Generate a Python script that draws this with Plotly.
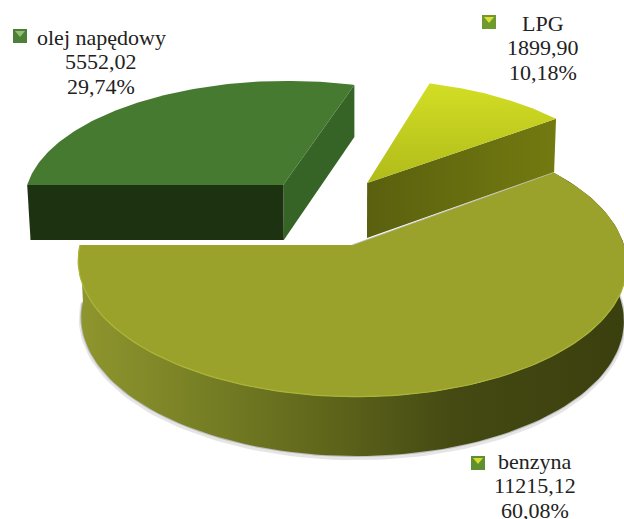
import math
import plotly.graph_objects as go

categories = ["olej napędowy", "LPG", "benzyna"]
values = [5552.02, 1899.90, 11215.12]
value_labels = ["5552,02", "1899,90", "11215,12"]

# view model of the tilted pie
START_DEG = 270.0
CX, CY, FX, FY, PERSP, DROP, PERSP_Z, PERSP_ZX, SKEW = 352, 245, 272, 132, 0.13, 58.3, 0.032, 0.011, 4
OFFSETS = [(-0.262, -0.483), (0.0666, -0.50), (0.0, 0.0)]

total = sum(values)


def project(x, y, z=0.0):
    w = 1 - PERSP * y + PERSP_Z * z
    wx = 1 - PERSP * y + PERSP_ZX * z
    return CX + (FX * x + SKEW * y) / wx, CY + (FY * y + DROP * z) / w


def rim(off, a, z=0.0):
    r = math.radians(a)
    return project(off[0] + math.sin(r), off[1] - math.cos(r), z)


def arc(off, a0, a1, z=0.0, n=120):
    return [rim(off, a0 + (a1 - a0) * i / n, z) for i in range(n + 1)]


def poly(pts, color=None, gradient=None):
    xs, ys = zip(*pts)
    kw = dict(fillgradient=gradient) if gradient else dict(fillcolor=color)
    fig.add_trace(go.Scatter(x=list(xs) + [xs[0]], y=list(ys) + [ys[0]], mode="lines",
                             fill="toself", line=dict(width=0), hoverinfo="skip", **kw))


def stroke(pts, color, width):
    xs, ys = zip(*pts)
    fig.add_trace(go.Scatter(x=list(xs), y=list(ys), mode="lines",
                             line=dict(color=color, width=width), hoverinfo="skip"))


fig = go.Figure()

angles = []
a = START_DEG
for v in values:
    angles.append((a, a + 360 * v / total))
    a += 360 * v / total

# benzyna
off = OFFSETS[2]
a0, a1 = angles[2]
a0 -= 360
a1 -= 360
tip = project(*off)
stroke(arc(off, 80, 270, 1.03), "rgba(0,0,0,0.10)", 5)
stroke(arc(off, 80, 270, 1.0), "rgba(0,0,0,0.18)", 2)
poly(arc(off, a0, a1) + arc(off, a1, a0, 1.0), gradient=dict(
    type="horizontal",
    colorscale=[[0, "#8f962e"], [0.2, "#7a8226"], [0.45, "#5f661b"], [0.68, "#454a13"], [1, "#3a3f0e"]]))
poly([tip] + arc(off, a0, a1), color="#9aa22c")
stroke(arc(off, 100, 270), "#aab535", 1.2)
stroke([rim(off, a0), tip], "rgba(190,190,190,0.8)", 1)

# LPG
off = OFFSETS[1]
a0, a1 = angles[1]
a0 -= 360
a1 -= 360
tip = project(*off)
tip_b = project(*off, 1.0)
poly([tip, rim(off, a1), rim(off, a1, 1.0), tip_b], gradient=dict(
    type="horizontal", colorscale=[[0, "#5a600e"], [1, "#737a10"]]))
poly([tip] + arc(off, a0, a1), gradient=dict(
    type="vertical", colorscale=[[0, "#b0bb1a"], [1, "#d2de24"]]))

# olej napędowy
off = OFFSETS[0]
a0, a1 = angles[0]
tip = project(*off)
tip_b = project(*off, 1.0)
poly([tip, rim(off, a1), rim(off, a1, 1.0), tip_b], color="#366326")
poly([tip, rim(off, a0), rim(off, a0, 1.0), tip_b], color="#1c3210")
poly([tip] + arc(off, a0, a1), color="#457a30")

# labels
LABEL_POS = [(101, 37), (543, 23), (535, 461)]
LINE = 24.5
ann = []
for name, val, v, (lx, ly) in zip(categories, value_labels, values, LABEL_POS):
    pct = f"{100 * v / total:.2f}%".replace(".", ",")
    for i, t in enumerate((name, val, pct)):
        ann.append(dict(x=lx, y=ly + LINE * i, text=t, showarrow=False, xref="x", yref="y",
                        xanchor="center", yanchor="middle",
                        font=dict(family="Liberation Serif", size=22, color="#222222")))

KEY_POS = [(13, 29), (482, 15), (471, 456)]
KEY_OUT = ["#4c7f38", "#6f9a2e", "#5e9030"]
KEY_IN = ["#8fc070", "#dcdf36", "#d6da30"]
shapes = []
for (kx, ky), co, ci in zip(KEY_POS, KEY_OUT, KEY_IN):
    shapes.append(dict(type="rect", xref="x", yref="y", x0=kx, y0=ky, x1=kx + 14, y1=ky + 14,
                       fillcolor=co, line=dict(width=0)))
    shapes.append(dict(type="path", xref="x", yref="y",
                       path=f"M{kx + 2},{ky + 2} L{kx + 12},{ky + 2} L{kx + 7},{ky + 8} Z",
                       fillcolor=ci, line=dict(width=0)))

fig.update_layout(
    width=624, height=519, margin=dict(l=0, r=0, t=0, b=0),
    paper_bgcolor="white", plot_bgcolor="white", showlegend=False,
    xaxis=dict(range=[0, 624], visible=False, fixedrange=True),
    yaxis=dict(range=[519, 0], visible=False, fixedrange=True),
    annotations=ann, shapes=shapes,
)
fig.write_html("out.html", config=dict(displayModeBar=False),
               post_script="document.body.style.margin='0';")
